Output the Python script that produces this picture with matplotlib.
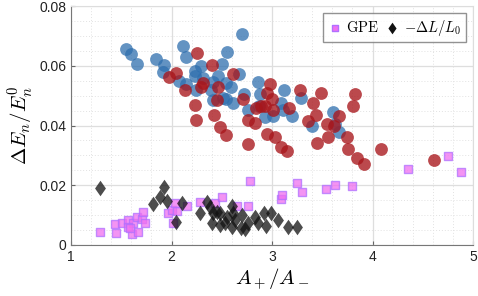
import matplotlib
matplotlib.use("Agg")
import matplotlib.pyplot as plt
import numpy as np
from matplotlib.ticker import MultipleLocator
from matplotlib.path import Path

plt.rcParams["font.family"] = ["Liberation Sans", "DejaVu Sans"]
plt.rcParams["mathtext.fontset"] = "cm"

# blue circles
blue_x = [1.544, 1.600, 1.660, 1.849, 1.922, 1.915, 2.078, 2.111, 2.147, 2.144,
          2.234, 2.294, 2.234, 2.316, 2.244, 2.410, 2.466, 2.393, 2.502, 2.552,
          2.545, 2.589, 2.699, 2.675, 2.416, 2.515, 2.542, 2.615, 2.721, 2.758,
          2.864, 2.884, 2.874, 2.930, 3.013, 3.087, 3.119, 3.106, 3.202, 3.286,
          3.395, 3.610, 3.627, 3.670]
blue_y = [0.0657, 0.0638, 0.0605, 0.0624, 0.0601, 0.0578, 0.0550, 0.0665, 0.0630, 0.0540,
          0.0584, 0.0598, 0.0565, 0.0558, 0.0520, 0.0545, 0.0567, 0.0518, 0.0605, 0.0647,
          0.0541, 0.0529, 0.0706, 0.0574, 0.0487, 0.0491, 0.0490, 0.0474, 0.0504, 0.0453,
          0.0545, 0.0506, 0.0464, 0.0427, 0.0431, 0.0476, 0.0518, 0.0453, 0.0431, 0.0492,
          0.0397, 0.0445, 0.0406, 0.0378]

# red circles
red_x = [2.257, 2.400, 2.045, 1.975, 2.134, 2.316, 2.294, 2.460, 2.615, 2.450,
         2.237, 2.420, 2.244, 2.486, 2.539, 2.711, 2.764, 2.844, 2.930, 2.947,
         2.977, 3.000, 3.007, 2.764, 2.828, 2.953, 3.030, 2.888, 3.172, 3.279,
         3.488, 3.411, 3.435, 3.361, 3.544, 3.620, 3.667, 3.826, 3.809, 3.087,
         3.146, 3.451, 3.554, 3.749, 3.759, 4.082, 3.849, 3.918, 4.615]
red_y = [0.0643, 0.0604, 0.0576, 0.0564, 0.0520, 0.0543, 0.0529, 0.0529, 0.0574, 0.0487,
         0.0467, 0.0436, 0.0419, 0.0396, 0.0367, 0.0490, 0.0339, 0.0459, 0.0466, 0.0509,
         0.0540, 0.0490, 0.0451, 0.0419, 0.0410, 0.0371, 0.0363, 0.0466, 0.0459, 0.0518,
         0.0510, 0.0476, 0.0436, 0.0416, 0.0406, 0.0399, 0.0431, 0.0507, 0.0466, 0.0328,
         0.0315, 0.0343, 0.0363, 0.0363, 0.0322, 0.0322, 0.0291, 0.0272, 0.0283]

# GPE squares
gpe_x = [1.289, 1.438, 1.448, 1.510, 1.570, 1.604, 1.620, 1.670, 1.654, 1.703,
         1.719, 1.736, 1.567, 1.587, 1.968, 2.002, 2.018, 2.058, 2.035, 2.157,
         2.284, 2.433, 2.500, 2.655, 2.758, 2.781, 3.087, 3.097, 3.246, 3.296,
         3.537, 3.630, 3.796, 4.350, 4.754, 4.881]
gpe_y = [0.00446, 0.00705, 0.00393, 0.00728, 0.00839, 0.00369, 0.00728, 0.00446, 0.00950, 0.00862,
         0.01117, 0.00748, 0.00614, 0.00560, 0.01064, 0.01174, 0.00748, 0.01151, 0.01419, 0.01309,
         0.01453, 0.01419, 0.01601, 0.01309, 0.01319, 0.02158, 0.01544, 0.01678, 0.02091, 0.01789,
         0.01879, 0.02023, 0.01990, 0.02550, 0.02987, 0.02440]

# -dL/L0 diamonds
dl_x = [1.289, 1.813, 1.886, 1.928, 1.958, 2.101, 2.045, 2.284, 2.350, 2.383,
        2.416, 2.483, 2.400, 2.483, 2.549, 2.599, 2.615, 2.632, 2.599, 2.699,
        2.692, 2.731, 2.764, 2.831, 2.858, 2.920, 2.940, 2.987, 3.057, 3.156,
        3.246, 2.456, 2.532]
dl_y = [0.0190, 0.01366, 0.01621, 0.01956, 0.01487, 0.01399, 0.00782, 0.01084, 0.01453, 0.01285,
        0.01064, 0.01064, 0.00728, 0.00671, 0.00950, 0.01309, 0.01084, 0.00839, 0.00594, 0.01007,
        0.00560, 0.00527, 0.00748, 0.00950, 0.00748, 0.01084, 0.00638, 0.01064, 0.00839, 0.00614,
        0.00614, 0.01117, 0.00740]

diamond = Path([(0, 1), (0.7, 0), (0, -1), (-0.7, 0), (0, 1)],
               [Path.MOVETO, Path.LINETO, Path.LINETO, Path.LINETO, Path.CLOSEPOLY])

fig = plt.figure(figsize=(4.78, 2.96), dpi=100)
ax = fig.add_axes([71 / 478, 51 / 296, 402 / 478, 239 / 296])

ax.scatter(blue_x, blue_y, s=85, color="#2f6fae", alpha=0.75, linewidths=0, zorder=3)
ax.scatter(red_x, red_y, s=85, color="#a8161b", alpha=0.78, linewidths=0, zorder=3)
ax.scatter(gpe_x, gpe_y, s=40, marker="s", facecolor="#f070f0", edgecolor="#b070ff",
           alpha=0.75, linewidths=1.0, zorder=3, label=r"$\mathrm{GPE}$")
ax.scatter(dl_x, dl_y, s=125, marker=diamond, color="#111111", alpha=0.75,
           linewidths=0, zorder=4, label=r"$-\Delta L/L_0$")

ax.set_xlim(1, 5)
ax.set_ylim(0, 0.08)
ax.set_xticks([1, 2, 3, 4, 5])
ax.set_yticks([0, 0.02, 0.04, 0.06, 0.08])
ax.set_yticklabels(["0", "0.02", "0.04", "0.06", "0.08"])
ax.xaxis.set_minor_locator(MultipleLocator(0.2))
ax.yaxis.set_minor_locator(MultipleLocator(0.005))
ax.grid(True, which="major", color="#dedede", linewidth=0.9, zorder=0)
ax.grid(True, which="minor", color="#e2e2e2", linewidth=0.7, linestyle=(0, (1, 2)), zorder=0)
ax.set_axisbelow(True)
ax.tick_params(which="both", direction="in", labelsize=10, labelcolor="#222222",
               color="#666666")
ax.tick_params(which="minor", length=0)
ax.tick_params(which="major", length=3)
for side in ["top", "right"]:
    ax.spines[side].set_color("#dddddd")
for side in ["left", "bottom"]:
    ax.spines[side].set_color("#777777")

ax.set_xlabel(r"$A_+/A_-$", fontsize=15, labelpad=2)
ax.set_ylabel(r"$\Delta E_n/E_n^0$", fontsize=15, labelpad=2)

leg = ax.legend(loc="upper right", ncol=2, fontsize=10.5, frameon=True, fancybox=False,
                handletextpad=0.3, columnspacing=0.4, handlelength=1.0,
                borderpad=0.3, borderaxespad=0.5, markerscale=0.75)
leg.get_frame().set_edgecolor("#777777")
leg.get_frame().set_linewidth(1.0)
for h in leg.legend_handles:
    h.set_alpha(1.0)

fig.savefig("out.png", dpi=100)
